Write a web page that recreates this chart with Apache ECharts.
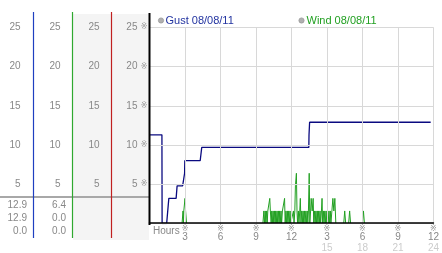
<!DOCTYPE html>
<html><head><meta charset="utf-8">
<script src="https://cdn.jsdelivr.net/npm/echarts@6/dist/echarts.min.js"></script>
<style>html,body{margin:0;padding:0;background:#fff}#c{width:442px;height:253px}</style>
</head><body><div id="c"></div>
<script>
// ---- data ----
const yTicks = [5, 10, 15, 20, 25];
const xTickHours = [3, 6, 9, 12, 15, 18, 21, 24];
const legendNames = ['Gust 08/08/11', 'Wind 08/08/11'];
const gustStats = ['12.9', '12.9', '0.0'];
const windStats = ['6.4', '0.0', '0.0'];
// [minute of day, value]
const gust = [[0,11.3],[63,11.3],[64,0],[87,0],[98,3.2],[135,3.2],[140,4.8],[168,4.8],[178,6.4],[179,8.0],[257,8.0],[265,9.7],[808,9.7],[809,11.3],[812,12.9],[1426,12.9]];
const wind = [[0,0],[165,0],[170,1.6],[172,0],[174,1.6],[180,3.2],[183,1.6],[186,1.6],[188,0],
[575,0],[580,1.6],[583,0],[587,1.6],[590,0],[594,1.6],[597,0],[600,1.6],[605,1.6],[610,3.2],[613,1.6],[617,0],[620,1.6],[623,0],[627,1.6],[630,0],[634,1.6],[637,0],[640,1.6],[643,0],[647,1.6],[650,0],[654,1.6],[657,0],[660,1.6],[663,0],[667,1.6],[670,0],[674,1.6],[680,1.6],[685,3.2],[688,0],[692,1.6],[695,0],[699,1.6],[702,0],[706,1.6],[709,0],[713,1.6],[716,0],[725,0],[730,1.6],[733,0],[737,1.6],[740,4.8],[745,6.4],[748,1.6],[751,0],[755,1.6],[758,0],[762,1.6],[765,3.2],[768,0],[772,1.6],[775,0],[779,1.6],[782,0],[786,1.6],[789,0],[793,1.6],[796,0],[800,1.6],[803,0],[806,1.6],[810,6.4],[813,0],[817,1.6],[820,3.2],[825,1.6],[830,3.2],[833,0],[837,1.6],[840,0],[844,1.6],[847,0],[851,1.6],[854,0],[858,1.6],[861,0],[865,1.6],[868,0],[872,1.6],[875,3.2],[878,0],[882,1.6],[885,0],[889,1.6],[892,0],[896,1.6],[899,0],[903,1.6],[906,0],[910,1.6],[913,0],[917,1.6],[920,0],[925,1.6],[930,3.2],[935,1.6],[940,3.2],[945,0],
[985,0],[990,1.6],[995,0],[1010,0],[1015,1.6],[1020,0],[1080,0],[1085,1.6],[1090,0],[1440,0]];

// ---- chart ----
const FONT = 'Liberation Sans, Arial, sans-serif';
const MARK = '※';
const MARKFONT = 'DejaVu Sans, Noto Sans CJK JP, sans-serif';
const chart = echarts.init(document.getElementById('c'), null, {renderer: 'canvas'});

const yLabel = v => yTicks.includes(v) ? String(v) : '';
function sideAxis(offset, margin) {
  return {
    type: 'value', position: 'left', gridIndex: 0, offset: offset,
    min: 0, max: 25, interval: 5, z: 5,
    axisLine: {show: false}, axisTick: {show: false}, splitLine: {show: false},
    axisLabel: {formatter: yLabel, margin: margin, color: '#888', fontSize: 10, fontFamily: FONT}
  };
}

const statText = (arr, right) => arr.map((s, i) => ({
  type: 'text', z: 6, x: right, y: 205 + i * 13,
  style: {text: s, fill: '#888', font: '10px ' + FONT, align: 'right', verticalAlign: 'middle'}
}));

chart.setOption({
  animation: false,
  backgroundColor: '#fff',
  grid: {left: 149.5, right: 3.5, top: 27.3, bottom: 27.4, containLabel: false},
  xAxis: {
    type: 'value', min: 0, max: 24, interval: 3, offset: -1, z: 5,
    axisLine: {show: true, lineStyle: {color: '#000', width: 1.5}},
    axisTick: {show: false},
    splitLine: {show: true, lineStyle: {color: '#d8d8d8', width: 1}},
    axisLabel: {
      margin: 3, showMinLabel: false, showMaxLabel: true,
      formatter: v => {
        if (!xTickHours.includes(v)) return '';
        const h = v > 12 ? v - 12 : v;
        return v > 12 ? `{m|${MARK}}\n{d|${h}}\n{l|${v}}` : `{m|${MARK}}\n{d|${h}}`;
      },
      rich: {
        m: {fontSize: 8, lineHeight: 7, color: '#999', fontFamily: MARKFONT},
        d: {fontSize: 10, lineHeight: 10, color: '#888', fontFamily: FONT},
        l: {fontSize: 10, lineHeight: 11, color: '#ccc', fontFamily: FONT}
      }
    }
  },
  yAxis: [
    {
      type: 'value', position: 'left', min: 0, max: 25, interval: 5, z: 5,
      axisLine: {show: false}, axisTick: {show: false},
      splitLine: {show: true, lineStyle: {color: '#d8d8d8', width: 1}},
      axisLabel: {
        margin: 2,
        formatter: v => yTicks.includes(v) ? `{d|${v}} {m|${MARK}}` : '',
        rich: {
          d: {fontSize: 10, color: '#888', fontFamily: FONT},
          m: {fontSize: 8, color: '#999', fontFamily: MARKFONT}
        }
      }
    },
    sideAxis(38, 12),
    sideAxis(77, 12),
    sideAxis(116, 13)
  ],
  series: [
    {
      name: legendNames[1], type: 'line', yAxisIndex: 0, z: 3,
      data: wind.map(([m, v]) => [m / 60, v]),
      showSymbol: false, symbol: 'none',
      lineStyle: {color: '#22a022', width: 1}
    },
    {
      name: legendNames[0], type: 'line', yAxisIndex: 0, z: 4,
      data: gust.map(([m, v]) => [m / 60, v]),
      showSymbol: false, symbol: 'none',
      lineStyle: {color: '#0a0a80', width: 1.3}
    }
  ],
  graphic: [
    {type: 'rect', z: -1, shape: {x: 73, y: 14, width: 76, height: 226}, style: {fill: '#f4f4f4'}},
    {type: 'line', z: 6, shape: {x1: 0, y1: 197, x2: 149, y2: 197}, style: {stroke: '#a8a8a8', lineWidth: 2}},
    {type: 'line', z: 7, shape: {x1: 33.5, y1: 12, x2: 33.5, y2: 238}, style: {stroke: '#1f3fc0', lineWidth: 1.2}},
    {type: 'line', z: 7, shape: {x1: 72.5, y1: 12, x2: 72.5, y2: 238}, style: {stroke: '#2fa82f', lineWidth: 1.2}},
    {type: 'line', z: 7, shape: {x1: 111.5, y1: 12, x2: 111.5, y2: 238}, style: {stroke: '#c02020', lineWidth: 1.2}},
    {type: 'line', z: 7, shape: {x1: 149.5, y1: 13, x2: 149.5, y2: 225}, style: {stroke: '#000', lineWidth: 2}},
    {type: 'text', z: 7, x: 153, y: 231.5, style: {text: 'Hours', fill: '#888', font: '10px ' + FONT, verticalAlign: 'middle'}},
    {type: 'circle', z: 7, shape: {cx: 161, cy: 20.5, r: 2.6}, style: {fill: '#b0b0b0', stroke: '#999', lineWidth: 0.8}},
    {type: 'text', z: 7, x: 165.5, y: 20.5, style: {text: legendNames[0], fill: '#2233a0', font: '11px ' + FONT, verticalAlign: 'middle'}},
    {type: 'circle', z: 7, shape: {cx: 301.5, cy: 20.5, r: 2.6}, style: {fill: '#b0b0b0', stroke: '#999', lineWidth: 0.8}},
    {type: 'text', z: 7, x: 306.5, y: 20.5, style: {text: legendNames[1], fill: '#22a022', font: '11px ' + FONT, verticalAlign: 'middle'}},
    ...statText(gustStats, 27),
    ...statText(windStats, 66)
  ]
});
</script>
</body></html>
